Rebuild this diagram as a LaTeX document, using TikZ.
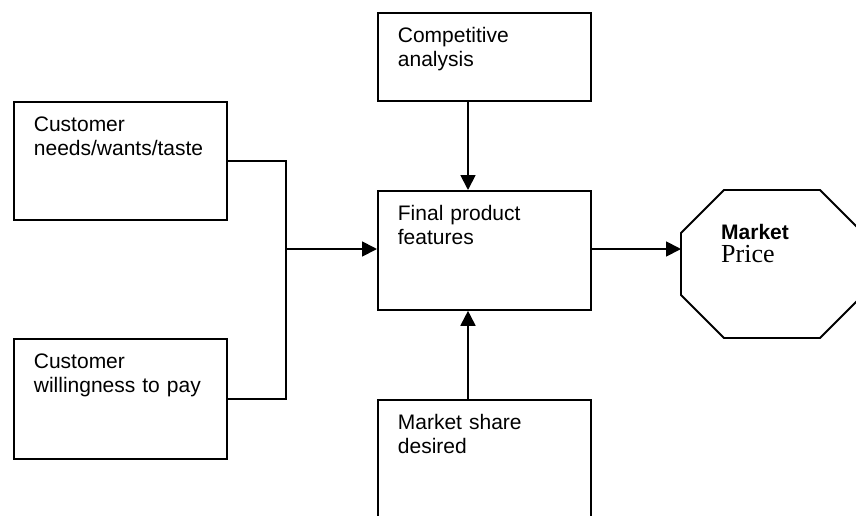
\documentclass[tikz,border=0pt]{standalone}
\usepackage{fontspec}
\setmainfont{Liberation Sans}
\newfontfamily\pricefont{Liberation Serif}
\usetikzlibrary{arrows.meta}

\tikzset{
	box/.style={draw, line width=1.8pt, anchor=north west, align=left, text width=173pt,
		inner xsep=20pt, inner ysep=0pt, text height=30pt, text depth=#1},
	conn/.style={line width=1.8pt},
	arr/.style={conn, -{Triangle[length=15pt,width=15pt]}}
}

\begin{document}
\begin{tikzpicture}[x=1pt, y=-1pt, font=\fontsize{21}{23.3}\selectfont]
		\clip (0,0) rectangle (856,515);
		\node [box=58pt] (comp) at (377,12) {Competitive\\analysis};
		\node [box=88pt] (needs) at (13,101) {Customer\\needs/wants/taste};
		\node [box=89pt] (final) at (377,190) {Final product\\features};
		\node [box=90pt] (will) at (13,338) {Customer\\willingness to pay};
		\node [box=140pt] (share) at (377,399) {Market share\\desired};

		% octagon, cut at the right edge
		\draw [conn] (681,233) -- (724,190) -- (820,190) -- (863,233) -- (863,295) -- (820,338) -- (724,338) -- (681,295) -- cycle;
		\coordinate (oct) at (681,249);
		\node [anchor=base west, text width=120pt, align=left, inner sep=0pt] (price) at (721,239)
			{\textbf{Market}\\\pricefont\fontsize{26}{29}\selectfont Price};

		\coordinate (join) at (286,249);
		\draw [conn] (needs.east) -| (join);
		\draw [conn] (will.east) -| (join);
		\draw [arr] (join) -- (join -| final.west);
		\draw [arr] (final.east |- oct) -- (oct);
		\draw [arr] ([xshift=91pt]comp.south west) -- ([xshift=91pt]final.north west);
		\draw [arr] ([xshift=91pt]share.north west) -- ([xshift=91pt]final.south west);
\end{tikzpicture}
\end{document}
